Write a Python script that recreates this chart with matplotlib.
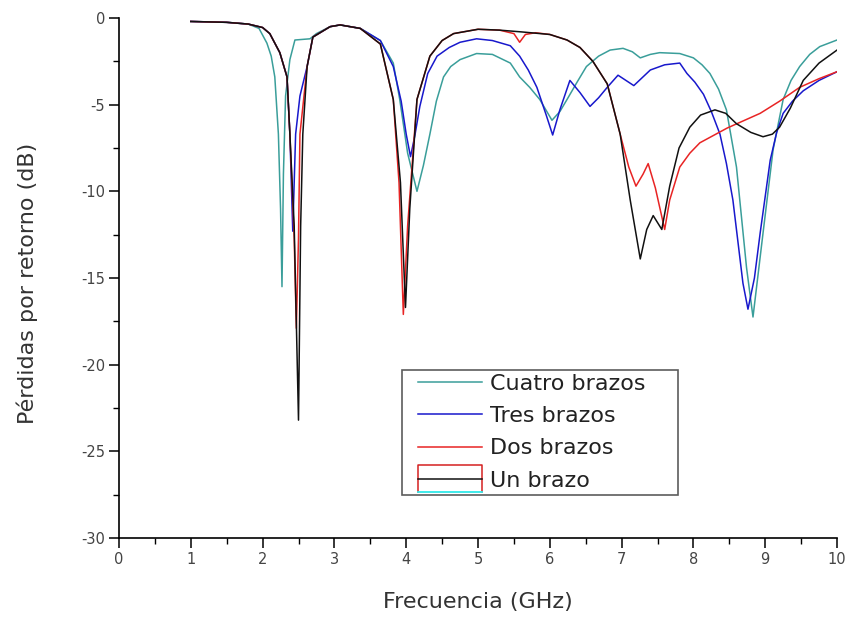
import matplotlib
matplotlib.use("Agg")
import matplotlib.pyplot as plt
from matplotlib.ticker import MultipleLocator
from matplotlib.legend_handler import HandlerLine2D
from matplotlib.lines import Line2D

plt.rcParams['font.family'] = ['DejaVu Sans']
plt.rcParams['axes.unicode_minus'] = False

# ---- data (frequency GHz, return loss dB) ----
f_cuatro = [1.0, 1.5, 1.8, 1.95, 2.06, 2.12, 2.17, 2.22, 2.25, 2.27, 2.29, 2.32, 2.38, 2.45, 2.66, 2.75,
            2.94, 3.08, 3.36, 3.64, 3.82, 3.91, 4.02, 4.15, 4.24, 4.33, 4.42, 4.52, 4.62, 4.75, 4.98, 5.2, 5.45,
            5.58, 5.72, 5.86, 6.03, 6.14, 6.24, 6.38, 6.51, 6.68, 6.84, 7.02, 7.15, 7.26, 7.4, 7.53, 7.81, 8.0,
            8.12, 8.23, 8.35, 8.46, 8.6, 8.74, 8.83, 8.97, 9.11, 9.25, 9.36, 9.48, 9.62, 9.76, 10.0]
s_cuatro = [-0.2, -0.25, -0.35, -0.6, -1.45, -2.2, -3.4, -6.7, -11.0, -15.5, -9.0, -4.5, -2.4, -1.27, -1.2, -0.9,
            -0.5, -0.4, -0.6, -1.3, -2.6, -4.7, -7.8, -10.0, -8.5, -6.7, -4.8, -3.4, -2.8, -2.4, -2.05, -2.1, -2.6,
            -3.4, -4.0, -4.7, -5.9, -5.4, -4.7, -3.7, -2.8, -2.2, -1.85, -1.75, -1.95, -2.3, -2.1, -2.0, -2.05, -2.3,
            -2.7, -3.2, -4.1, -5.3, -8.6, -14.4, -17.25, -12.4, -7.6, -4.7, -3.6, -2.8, -2.1, -1.65, -1.27]

f_tres = [1.0, 1.5, 1.8, 2.0, 2.1, 2.24, 2.34, 2.38, 2.42, 2.46, 2.52, 2.62, 2.7, 2.94, 3.08,
          3.36, 3.64, 3.82, 3.93, 4.0, 4.06, 4.12, 4.19, 4.3, 4.43, 4.6, 4.75, 4.98, 5.2, 5.45,
          5.58, 5.7, 5.82, 5.95, 6.04, 6.14, 6.28, 6.42, 6.56, 6.68, 6.8, 6.95, 7.17, 7.4, 7.6, 7.81, 7.91,
          8.02, 8.14, 8.25, 8.37, 8.46, 8.55, 8.69, 8.76, 8.85, 8.93, 9.07, 9.16, 9.25, 9.38, 9.53, 9.75, 10.0]
s_tres = [-0.2, -0.25, -0.35, -0.55, -0.9, -2.0, -3.4, -6.7, -12.3, -6.7, -4.5, -2.8, -1.1, -0.5, -0.4,
          -0.6, -1.3, -2.8, -4.8, -6.7, -8.0, -6.8, -5.1, -3.2, -2.2, -1.7, -1.4, -1.2, -1.3, -1.6,
          -2.2, -3.0, -4.0, -5.6, -6.75, -5.3, -3.6, -4.3, -5.1, -4.6, -4.0, -3.3, -3.9, -3.0, -2.7, -2.6, -3.2,
          -3.7, -4.4, -5.4, -6.7, -8.4, -10.5, -15.3, -16.8, -15.0, -12.4, -8.2, -6.6, -5.5, -4.8, -4.2, -3.6, -3.1]

f_dos = [1.0, 1.5, 1.8, 2.0, 2.1, 2.24, 2.34, 2.38, 2.44, 2.47, 2.5, 2.52, 2.62, 2.7, 2.94, 3.08,
         3.36, 3.64, 3.82, 3.9, 3.96, 4.02, 4.15, 4.33, 4.5, 4.66, 5.0, 5.3, 5.5, 5.58, 5.66, 5.8, 6.0,
         6.24, 6.42, 6.6, 6.8, 6.98, 7.1, 7.2, 7.3, 7.37, 7.47, 7.6, 7.67, 7.81, 7.95, 8.09, 8.47, 8.93,
         9.2, 9.48, 9.75, 10.0]
s_dos = [-0.2, -0.25, -0.35, -0.55, -0.9, -2.0, -3.4, -6.7, -12.7, -17.9, -12.7, -6.7, -2.8, -1.1, -0.5, -0.4,
         -0.6, -1.5, -4.7, -9.5, -17.1, -12.0, -4.7, -2.2, -1.3, -0.9, -0.65, -0.7, -0.9, -1.4, -0.95, -0.85, -0.95,
         -1.27, -1.7, -2.5, -3.8, -6.7, -8.6, -9.7, -9.0, -8.4, -9.8, -12.2, -10.5, -8.6, -7.8, -7.2, -6.35, -5.5,
         -4.8, -4.0, -3.5, -3.1]

f_un = [1.0, 1.5, 1.8, 2.0, 2.1, 2.24, 2.34, 2.38, 2.44, 2.5, 2.53, 2.56, 2.62, 2.7, 2.94, 3.08,
        3.36, 3.64, 3.82, 3.92, 3.99, 4.05, 4.15, 4.33, 4.5, 4.66, 5.0, 5.3, 5.6, 6.0, 6.24, 6.42,
        6.6, 6.8, 6.98, 7.12, 7.26, 7.35, 7.44, 7.56, 7.67, 7.8, 7.95, 8.1, 8.3, 8.45, 8.6, 8.8, 8.97, 9.1, 9.2,
        9.35, 9.53, 9.75, 10.0]
s_un = [-0.2, -0.25, -0.35, -0.55, -0.9, -2.0, -3.4, -6.7, -12.0, -23.2, -12.0, -6.7, -2.8, -1.1, -0.5, -0.4,
        -0.6, -1.5, -4.7, -9.5, -16.7, -11.0, -4.7, -2.2, -1.3, -0.9, -0.65, -0.7, -0.8, -0.95, -1.27, -1.7,
        -2.5, -3.8, -6.7, -10.5, -13.9, -12.2, -11.4, -12.2, -9.7, -7.5, -6.3, -5.6, -5.3, -5.5, -6.1, -6.6, -6.85, -6.7, -6.3,
        -5.2, -3.6, -2.6, -1.85]

labels = ["Cuatro brazos", "Tres brazos", "Dos brazos", "Un brazo"]
colors = ["#3a9e9a", "#1818cc", "#e82424", "#111111"]

xticks = [0, 1, 2, 3, 4, 5, 6, 7, 8, 9, 10]
yticks = [0, -5, -10, -15, -20, -25, -30]


class BoxedLineHandler(HandlerLine2D):
    """Legend handle with the red box and cyan underline seen in the original."""
    def create_artists(self, legend, orig_handle, xdescent, ydescent,
                       width, height, fontsize, trans):
        arts = super().create_artists(legend, orig_handle, xdescent, ydescent,
                                      width, height, fontsize, trans)
        x0 = -xdescent
        x1 = -xdescent + width
        yc = (height - ydescent) / 2
        box = Line2D([x0, x0, x1, x1], [yc - 9.5, yc + 10.0, yc + 10.0, yc - 9.5],
                     color="#d42020", lw=1.1, transform=trans)
        cyan = Line2D([x0, x1], [yc - 9.5, yc - 9.5], color="#30e8e8", lw=1.3,
                      transform=trans)
        for a in (box, cyan):
            a.set_clip_on(False)
        return [box, cyan] + list(arts)


fig = plt.figure(figsize=(8.48, 6.17), dpi=100)
ax = fig.add_axes([119/848, 79/617, 718/848, 520/617])

series = [(f_cuatro, s_cuatro), (f_tres, s_tres), (f_dos, s_dos), (f_un, s_un)]
lines = []
for i in range(4):
    fx, sy = series[i]
    ln, = ax.plot(fx, sy, color=colors[i], lw=1.1, label=labels[i])
    lines.append(ln)

ax.set_xlim(0, 10)
ax.set_ylim(-30, 0)
ax.set_xticks(xticks)
ax.set_yticks(yticks)
ax.xaxis.set_minor_locator(MultipleLocator(0.5))
ax.yaxis.set_minor_locator(MultipleLocator(2.5))
for side in ["top", "right"]:
    ax.spines[side].set_visible(False)
for side in ["left", "bottom"]:
    ax.spines[side].set_linewidth(1.2)
ax.tick_params(axis="both", which="major", direction="out", length=7, width=1.1,
               labelsize=10.5, labelcolor="#444444", pad=3)
ax.tick_params(axis="both", which="minor", direction="out", length=4, width=1.0)

ax.set_xlabel("Frecuencia (GHz)", fontsize=16, color="#333333")
ax.set_ylabel("Pérdidas por retorno (dB)", fontsize=16, color="#333333")
ax.xaxis.set_label_coords(0.5, -0.104)
ax.yaxis.set_label_coords(-0.113, 0.49)

fs = 16
em = fs * 100 / 72
xpad = 12 / em
hmap = {lines[i]: HandlerLine2D(xpad=xpad) for i in range(3)}
hmap[lines[3]] = BoxedLineHandler(xpad=xpad)

bb_h = 0.01
leg = ax.legend(handles=lines, labels=labels, handler_map=hmap,
                loc="upper left", mode="expand",
                bbox_to_anchor=((402-119)/718, (538-370)/520 - bb_h, (678-402)/718, bb_h),
                fontsize=fs, frameon=True, fancybox=False,
                handlelength=(482-406)/em, handletextpad=8/em,
                borderpad=0.18, labelspacing=0.55, borderaxespad=0)
leg.get_frame().set_edgecolor("#333333")
leg.get_frame().set_linewidth(1.2)
for t in leg.get_texts():
    t.set_color("#222222")

fig.savefig("out.png", dpi=100)
